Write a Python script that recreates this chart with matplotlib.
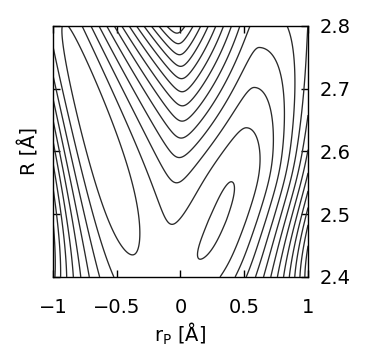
import numpy as np
import matplotlib
matplotlib.use("Agg")
import matplotlib.pyplot as plt

# axes
x_ticks = [-1, -0.5, 0, 0.5, 1]
x_tick_labels = ["\u22121", "\u22120.5", "0", "0.5", "1"]
y_ticks = [2.4, 2.5, 2.6, 2.7, 2.8]
y_tick_labels = ["2.4", "2.5", "2.6", "2.7", "2.8"]

# two-state surface, parameters (p = R - 2.4)
left_pos = [-0.335, -1.3, -0.3]        # left valley r, poly in (R - 2.4)
right_pos = [0.093, 2.43, -2.73]       # right valley r, poly in (R - 2.4)
left_floor = [0.3, 20.5, 2.62]         # a + b (R - R0)^2
right_floor = [0.88, 15.7, 2.49, 0.077, 0.02]   # flat bottom, then linear rise
inner_slope = [5.5, 7.0, 60.0]         # walls facing the barrier, poly in p
outer_curv_left = [18.0, 110.0, 0.0]   # outer walls k u^2, poly in p
outer_curv_right = [15.0, 95.0, -265.0]
rounding = 0.12
coupling = [0.5, 0.75]                 # a + b p
levels = np.arange(1, 40)


def poly(c, x):
    return c[0] + c[1] * x + c[2] * x**2


def diabat(u, floor, a_in, k_out, sep, inner_sign):
    inner = a_in * (np.sqrt(rounding**2 + u**2) - rounding)
    inner = inner + 60.0 * np.clip(np.abs(u) - sep, 0, None)**2
    return floor + np.where(u * inner_sign > 0, inner, k_out * u**2)


def surface(r, R):
    p = R - 2.4
    xl = poly(left_pos, p)
    xr = poly(right_pos, p)
    sep = xr - xl
    el = left_floor[0] + left_floor[1] * (R - left_floor[2])**2
    m, b, r0, s0, tau = right_floor
    er = m + b * tau * np.log1p(np.exp((np.abs(R - r0) - s0) / tau))
    a_in = poly(inner_slope, p)
    k_l = poly(outer_curv_left, p)
    k_r = poly(outer_curv_right, p)
    beta = coupling[0] + coupling[1] * p

    # raise the diabatic floors so the lower surface keeps the read floors
    gap_l = diabat(-sep, er, a_in, k_r, sep, -1) - el
    gap_r = diabat(sep, el, a_in, k_l, sep, 1) - er
    el = el + np.sqrt(0.25 * gap_l**2 + beta**2) - 0.5 * gap_l
    er = er + np.sqrt(0.25 * gap_r**2 + beta**2) - 0.5 * gap_r

    v1 = diabat(r - xl, el, a_in, k_l, sep, 1)
    v2 = diabat(r - xr, er, a_in, k_r, sep, -1)
    return 0.5 * (v1 + v2) - np.sqrt(0.25 * (v1 - v2)**2 + beta**2)


r = np.linspace(-1, 1, 500)
R = np.linspace(2.4, 2.8, 500)
rr, RR = np.meshgrid(r, R)
V = surface(rr, RR)

fig = plt.figure(figsize=(3.65, 3.51), dpi=100)
ax = fig.add_axes([0.145, 0.211, 0.699, 0.715])
ax.contour(rr, RR, V, levels=levels, colors="#2a2a2a", linewidths=0.95)

ax.set_xlim(-1, 1)
ax.set_ylim(2.4, 2.8)
ax.set_xticks(x_ticks)
ax.set_xticklabels(x_tick_labels)
ax.set_yticks(y_ticks)
ax.set_yticklabels(y_tick_labels)
ax.tick_params(direction="in", length=5, width=1, top=True, right=True,
               labelleft=False, labelright=True, labelsize=14, pad=8)
ax.tick_params(axis="x", pad=15)
for s in ax.spines.values():
    s.set_linewidth(1.0)

ax.set_xlabel("r$_\\mathrm{P}$ [Å]", fontsize=14, labelpad=3)
ax.set_ylabel("R [Å]", fontsize=14, labelpad=10)

fig.savefig("out.png", dpi=100)
